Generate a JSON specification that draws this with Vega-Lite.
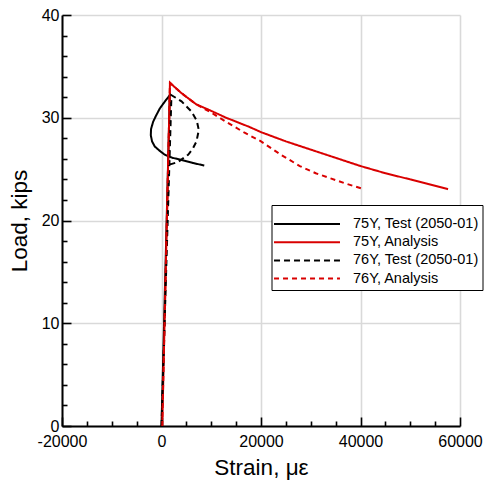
{
  "$schema": "https://vega.github.io/schema/vega-lite/v6.json",
  "width": 398,
  "height": 411,
  "autosize": {"type": "none"},
  "padding": {"left": 62, "top": 15, "right": 24, "bottom": 56},
  "background": "white",
  "config": {
    "view": {"stroke": null},
    "font": "Liberation Sans",
    "axis": {
      "domainColor": "black",
      "domainWidth": 2,
      "tickColor": "black",
      "tickWidth": 1.6,
      "labelColor": "black",
      "titleColor": "black",
      "labelFont": "Liberation Sans",
      "titleFont": "Liberation Sans",
      "labelFontSize": 16,
      "titleFontSize": 22.5,
      "titleFontWeight": "normal",
      "labelFlush": false,
      "labelOverlap": false,
      "gridColor": "#d9d9d9",
      "gridWidth": 1.6
    }
  },
  "data": {
    "values": [
      {"series": "75Y, Test (2050-01)", "i": 0, "strain": 0, "load": 0},
      {"series": "75Y, Test (2050-01)", "i": 1, "strain": 1670, "load": 32.2},
      {"series": "75Y, Test (2050-01)", "i": 2, "strain": 700, "load": 31.6},
      {"series": "75Y, Test (2050-01)", "i": 3, "strain": -340, "load": 30.9},
      {"series": "75Y, Test (2050-01)", "i": 4, "strain": -1100, "load": 30.2},
      {"series": "75Y, Test (2050-01)", "i": 5, "strain": -1690, "load": 29.6},
      {"series": "75Y, Test (2050-01)", "i": 6, "strain": -2100, "load": 28.9},
      {"series": "75Y, Test (2050-01)", "i": 7, "strain": -2150, "load": 28.3},
      {"series": "75Y, Test (2050-01)", "i": 8, "strain": -1900, "load": 27.7},
      {"series": "75Y, Test (2050-01)", "i": 9, "strain": -1350, "load": 27.2},
      {"series": "75Y, Test (2050-01)", "i": 10, "strain": -400, "load": 26.8},
      {"series": "75Y, Test (2050-01)", "i": 11, "strain": 660, "load": 26.4},
      {"series": "75Y, Test (2050-01)", "i": 12, "strain": 2200, "load": 26.1},
      {"series": "75Y, Test (2050-01)", "i": 13, "strain": 4020, "load": 25.9},
      {"series": "75Y, Test (2050-01)", "i": 14, "strain": 6300, "load": 25.6},
      {"series": "75Y, Test (2050-01)", "i": 15, "strain": 8600, "load": 25.35},
      {"series": "75Y, Analysis", "i": 0, "strain": 150, "load": 0},
      {"series": "75Y, Analysis", "i": 1, "strain": 1700, "load": 33.4},
      {"series": "75Y, Analysis", "i": 2, "strain": 4000, "load": 32.4},
      {"series": "75Y, Analysis", "i": 3, "strain": 7000, "load": 31.3},
      {"series": "75Y, Analysis", "i": 4, "strain": 9400, "load": 30.8},
      {"series": "75Y, Analysis", "i": 5, "strain": 13000, "load": 30.0},
      {"series": "75Y, Analysis", "i": 6, "strain": 17700, "load": 29.1},
      {"series": "75Y, Analysis", "i": 7, "strain": 20000, "load": 28.6},
      {"series": "75Y, Analysis", "i": 8, "strain": 25000, "load": 27.7},
      {"series": "75Y, Analysis", "i": 9, "strain": 30000, "load": 26.9},
      {"series": "75Y, Analysis", "i": 10, "strain": 35000, "load": 26.1},
      {"series": "75Y, Analysis", "i": 11, "strain": 40000, "load": 25.3},
      {"series": "75Y, Analysis", "i": 12, "strain": 45000, "load": 24.6},
      {"series": "75Y, Analysis", "i": 13, "strain": 50000, "load": 24.0},
      {"series": "75Y, Analysis", "i": 14, "strain": 57600, "load": 23.05},
      {"series": "76Y, Test (2050-01)", "i": 0, "strain": 0, "load": 0},
      {"series": "76Y, Test (2050-01)", "i": 1, "strain": 2000, "load": 32.2},
      {"series": "76Y, Test (2050-01)", "i": 2, "strain": 4020, "load": 31.6},
      {"series": "76Y, Test (2050-01)", "i": 3, "strain": 6030, "load": 30.6},
      {"series": "76Y, Test (2050-01)", "i": 4, "strain": 7100, "load": 29.7},
      {"series": "76Y, Test (2050-01)", "i": 5, "strain": 7500, "load": 28.8},
      {"series": "76Y, Test (2050-01)", "i": 6, "strain": 7030, "load": 27.7},
      {"series": "76Y, Test (2050-01)", "i": 7, "strain": 6300, "load": 27.0},
      {"series": "76Y, Test (2050-01)", "i": 8, "strain": 5350, "load": 26.4},
      {"series": "76Y, Test (2050-01)", "i": 9, "strain": 3340, "load": 25.7},
      {"series": "76Y, Test (2050-01)", "i": 10, "strain": 1330, "load": 25.4},
      {"series": "76Y, Analysis", "i": 0, "strain": 150, "load": 0},
      {"series": "76Y, Analysis", "i": 1, "strain": 1700, "load": 33.4},
      {"series": "76Y, Analysis", "i": 2, "strain": 4000, "load": 32.4},
      {"series": "76Y, Analysis", "i": 3, "strain": 7000, "load": 31.3},
      {"series": "76Y, Analysis", "i": 4, "strain": 10000, "load": 30.5},
      {"series": "76Y, Analysis", "i": 5, "strain": 13000, "load": 29.6},
      {"series": "76Y, Analysis", "i": 6, "strain": 16500, "load": 28.6},
      {"series": "76Y, Analysis", "i": 7, "strain": 20000, "load": 27.7},
      {"series": "76Y, Analysis", "i": 8, "strain": 24000, "load": 26.4},
      {"series": "76Y, Analysis", "i": 9, "strain": 27800, "load": 25.3},
      {"series": "76Y, Analysis", "i": 10, "strain": 31000, "load": 24.6},
      {"series": "76Y, Analysis", "i": 11, "strain": 34000, "load": 24.1},
      {"series": "76Y, Analysis", "i": 12, "strain": 37000, "load": 23.6},
      {"series": "76Y, Analysis", "i": 13, "strain": 40300, "load": 23.1}
    ]
  },
  "mark": {"type": "line", "strokeWidth": 2, "clip": true},
  "encoding": {
    "x": {
      "field": "strain",
      "type": "quantitative",
      "title": "Strain, με",
      "scale": {"domain": [-20000, 60000], "nice": false, "zero": false},
      "axis": {
        "values": [-20000, -15000, -10000, -5000, 0, 5000, 10000, 15000, 20000, 25000, 30000, 35000, 40000, 45000, 50000, 55000, 60000],
        "labelExpr": "datum.value % 20000 === 0 ? '' + datum.value : ''",
        "tickSize": {"condition": {"test": "datum.value % 20000 === 0", "value": -9}, "value": -5},
        "gridOpacity": {"condition": {"test": "datum.value % 20000 === 0", "value": 1}, "value": 0},
        "labelPadding": 16,
        "titlePadding": 3
      }
    },
    "y": {
      "field": "load",
      "type": "quantitative",
      "title": "Load, kips",
      "scale": {"domain": [0, 40], "nice": false},
      "axis": {
        "values": [0, 2, 4, 6, 8, 10, 12, 14, 16, 18, 20, 22, 24, 26, 28, 30, 32, 34, 36, 38, 40],
        "labelExpr": "datum.value % 10 === 0 ? '' + datum.value : ''",
        "tickSize": {"condition": {"test": "datum.value % 10 === 0", "value": -9}, "value": -5},
        "gridOpacity": {"condition": {"test": "datum.value % 10 === 0", "value": 1}, "value": 0},
        "labelPadding": 12,
        "titlePadding": 10
      }
    },
    "order": {"field": "i", "type": "quantitative"},
    "color": {
      "field": "series",
      "type": "nominal",
      "title": " ",
      "scale": {
        "domain": ["75Y, Test (2050-01)", "75Y, Analysis", "76Y, Test (2050-01)", "76Y, Analysis"],
        "range": ["black", "#d90000", "black", "#d90000"]
      },
      "legend": {
        "orient": "none",
        "legendX": 209.5,
        "legendY": 190,
        "symbolType": "M-5,0H5",
        "symbolSize": 174,
        "symbolOffset": 23.5,
        "symbolStrokeWidth": 2,
        "labelFontSize": 14.5,
        "labelFont": "Liberation Sans",
        "labelColor": "black",
        "labelOffset": 38,
        "titleFontSize": 6,
        "titlePadding": 1,
        "rowPadding": 3.2,
        "padding": 4,
        "strokeColor": "black",
        "fillColor": "white"
      }
    },
    "strokeDash": {
      "field": "series",
      "type": "nominal",
      "title": " ",
      "scale": {
        "domain": ["75Y, Test (2050-01)", "75Y, Analysis", "76Y, Test (2050-01)", "76Y, Analysis"],
        "range": [[1, 0], [1, 0], [6, 4], [5, 4]]
      }
    }
  }
}
